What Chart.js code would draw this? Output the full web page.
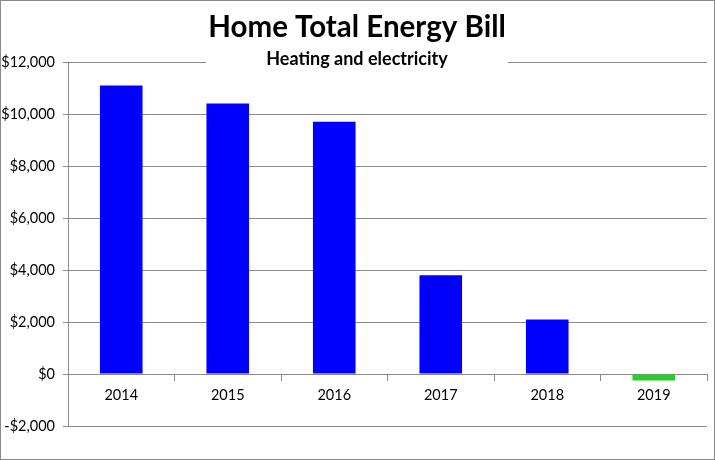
<!DOCTYPE html>
<html>
<head>
<meta charset="utf-8">
<script src="https://cdn.jsdelivr.net/npm/chart.js@4"></script>
<style>
  html, body { margin: 0; padding: 0; background: #fff; }
</style>
</head>
<body>
<canvas id="energyBill" width="715" height="460"></canvas>
<script>
const years = ['2014', '2015', '2016', '2017', '2018', '2019'];
const totals = [11100, 10400, 9700, 3800, 2100, -250];
const barColors = ['#0000ff', '#0000ff', '#0000ff', '#0000ff', '#0000ff', '#2ccc2c'];
const chartTitle = 'Home Total Energy Bill';
const chartSubtitle = 'Heating and electricity';

const FONT = 'Lato, "Open Sans", sans-serif';

function money(v) {
  const s = '$' + Math.abs(v).toLocaleString('en-US');
  return v < 0 ? '-' + s : s;
}

// white page + outer border + titles drawn over the plot like the original
const frame = {
  id: 'frame',
  beforeDraw(chart) {
    const c = chart.ctx;
    c.save();
    c.fillStyle = '#fff';
    c.fillRect(0, 0, chart.width, chart.height);
    c.restore();
  },
  afterDraw(chart) {
    const c = chart.ctx;
    c.save();
    c.strokeStyle = '#8a8a8a';
    c.lineWidth = 1;
    c.strokeRect(0.5, 0.5, chart.width - 1, chart.height - 1);

    c.fillStyle = '#000';
    c.textAlign = 'center';
    c.textBaseline = 'alphabetic';
    c.font = 'bold 29.5px ' + FONT;
    c.fillText(chartTitle, 357, 37);

    c.fillStyle = '#fff';
    c.fillRect(206, 50, 302, 22);
    c.fillStyle = '#000';
    c.font = 'bold 18px ' + FONT;
    c.fillText(chartSubtitle, 357, 65);
    c.restore();
  }
};

new Chart(document.getElementById('energyBill').getContext('2d'), {
  type: 'bar',
  data: {
    labels: years,
    datasets: [
      {
        label: 'Total',
        data: totals,
        backgroundColor: barColors,
        borderWidth: 0,
        barPercentage: 0.4,
        categoryPercentage: 1.0,
      },
    ],
  },
  options: {
    responsive: false,
    animation: false,
    layout: {
      padding: { top: 62, right: 8, bottom: 34, left: 0 },
    },
    plugins: {
      legend: { display: false },
      title: { display: false },
      tooltip: { enabled: false },
    },
    scales: {
      x: {
        position: { y: 0 },
        grid: {
          drawOnChartArea: false,
          drawTicks: true,
          tickLength: 6,
          offset: true,
          color: '#8a8a8a',
        },
        border: { color: '#8a8a8a' },
        ticks: {
          color: '#000',
          padding: 7,
          font: { family: FONT, size: 14.5 },
        },
      },
      y: {
        min: -2000,
        max: 12000,
        afterFit(scale) { scale.width = 68; },
        grid: {
          color: '#8a8a8a',
          tickLength: 5,
        },
        border: { color: '#8a8a8a' },
        ticks: {
          stepSize: 2000,
          color: '#000',
          padding: 8,
          font: { family: FONT, size: 14.5 },
          callback: (v) => money(v),
        },
      },
    },
  },
  plugins: [frame],
});
</script>
</body>
</html>
